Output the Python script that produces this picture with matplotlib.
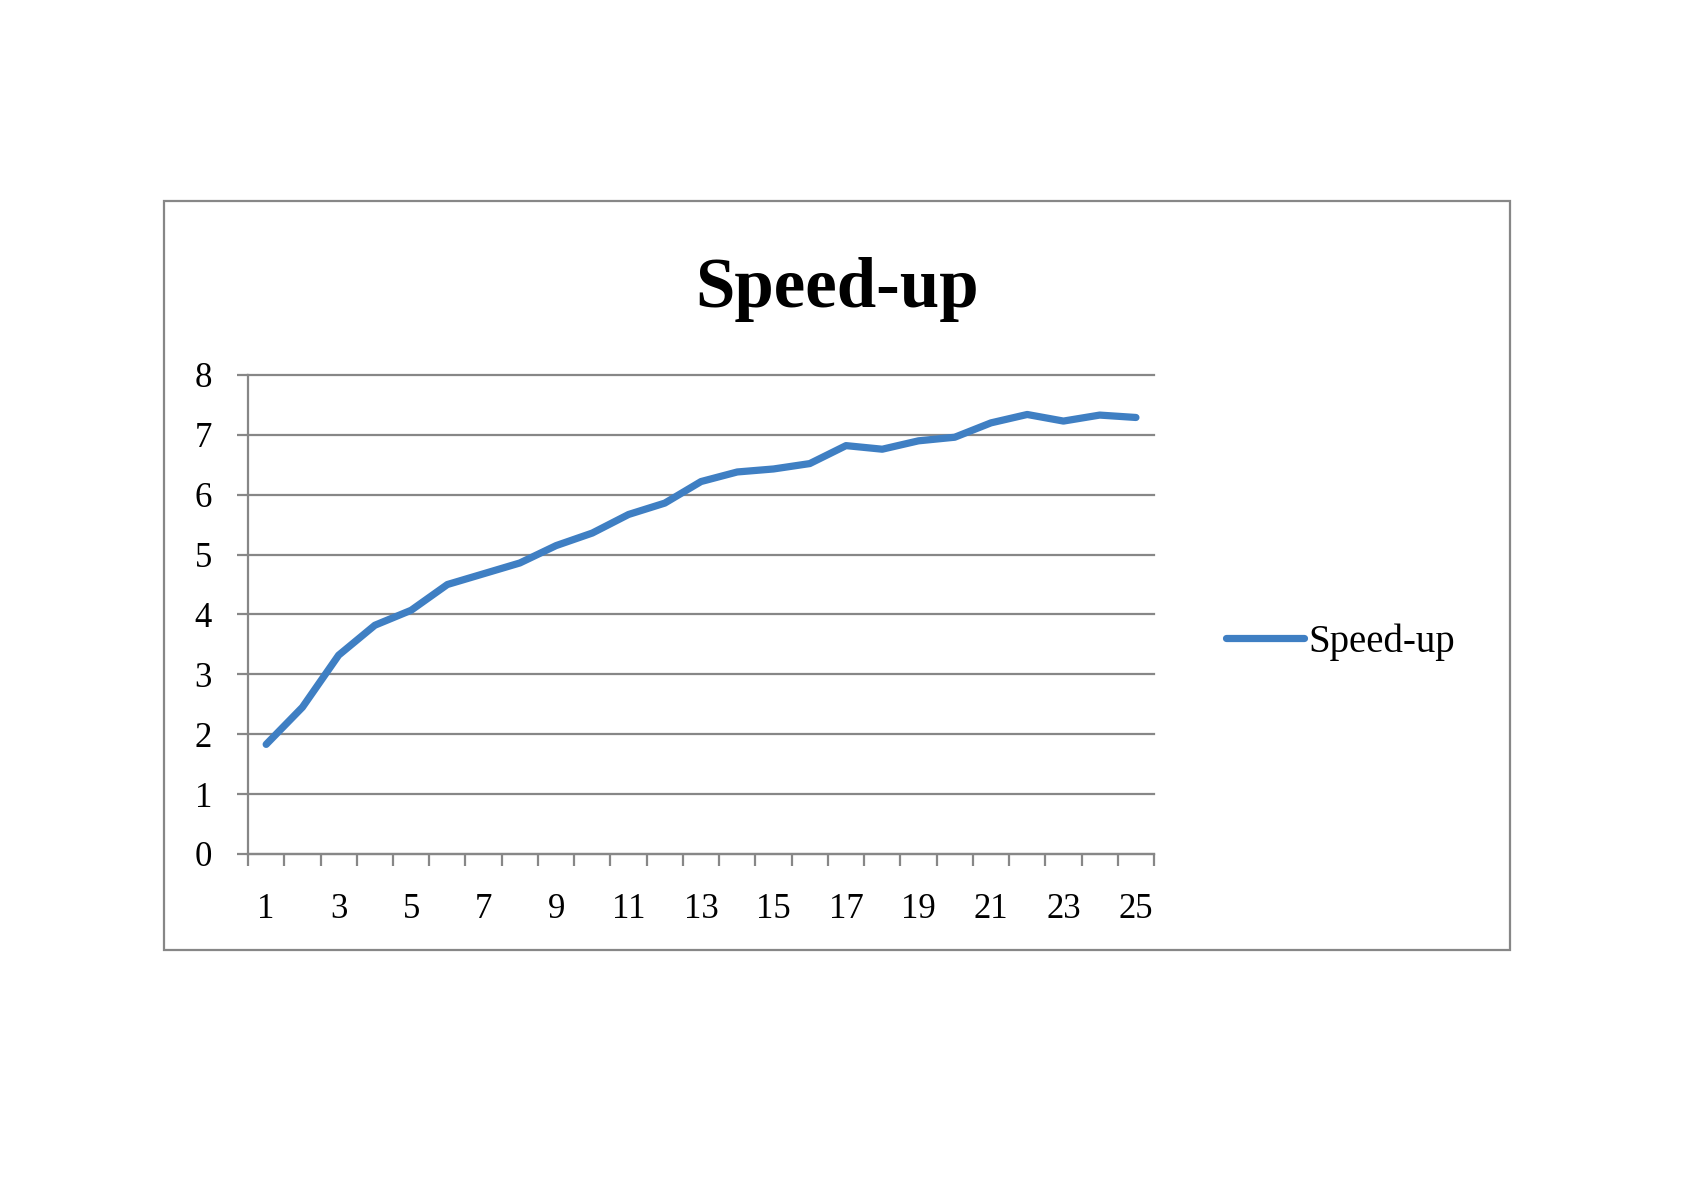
import matplotlib
matplotlib.use("Agg")
import matplotlib.pyplot as plt
from matplotlib.patches import Rectangle
from matplotlib.ticker import FixedLocator, NullFormatter

# values
runs = list(range(1, 26))
speedup = [1.83, 2.45, 3.32, 3.82, 4.07, 4.50, 4.68, 4.86, 5.15, 5.36,
           5.67, 5.86, 6.22, 6.38, 6.43, 6.52, 6.82, 6.76, 6.90, 6.96,
           7.20, 7.34, 7.23, 7.33, 7.29]
x_labels = [str(r) for r in runs[::2]]
y_ticks = list(range(0, 9))

LINE = "#3f7fc3"
GRID = "#878787"
FONT = "Liberation Serif"

fig = plt.figure(figsize=(16.84, 11.90), dpi=100)
plt.rcParams["font.family"] = FONT

# outer chart frame
fig.patches.append(Rectangle((0.0974, 0.2017), 0.7993, 0.6294,
                             transform=fig.transFigure, fill=False,
                             edgecolor=GRID, lw=1.6))

ax = fig.add_axes([0.1473, 0.2824, 0.5380, 0.4025])
ax.plot(runs, speedup, color=LINE, lw=5.2, solid_capstyle="round",
        solid_joinstyle="round", label="Speed-up", zorder=3)

ax.set_xlim(0.5, 25.5)
ax.set_ylim(0, 8)
ax.set_yticks(y_ticks)
ax.yaxis.grid(True, color=GRID, lw=1.6)
ax.set_axisbelow(True)
for gl in ax.get_ygridlines():
    gl.set_clip_on(False)

# category boundaries carry the tick marks, labels sit on every other point
ax.xaxis.set_major_locator(FixedLocator([i + 0.5 for i in range(0, 26)]))
ax.xaxis.set_major_formatter(NullFormatter())
ax.xaxis.set_minor_locator(FixedLocator(runs[::2]))
ax.set_xticklabels(x_labels, minor=True)

ax.tick_params(axis="x", which="major", direction="out", length=8.5,
               width=1.6, color=GRID)
ax.tick_params(axis="x", which="minor", length=0, pad=28, labelsize=25)
ax.tick_params(axis="y", direction="out", length=8, width=1.6, color=GRID,
               pad=18, labelsize=25)

for side in ("top", "right"):
    ax.spines[side].set_visible(False)
for side in ("left", "bottom"):
    ax.spines[side].set_color(GRID)
    ax.spines[side].set_linewidth(1.6)

fig.text(837 / 1684, 1 - 307 / 1190, "Speed-up", ha="center", va="baseline",
         fontsize=51, fontweight="bold", family=FONT)

fig.legend(loc="center left", bbox_to_anchor=(1226 / 1684, 1 - 642 / 1190),
           frameon=False, fontsize=28, handlelength=2.0, handletextpad=0.12,
           borderpad=0, borderaxespad=0)

fig.savefig("out.png", dpi=100)
